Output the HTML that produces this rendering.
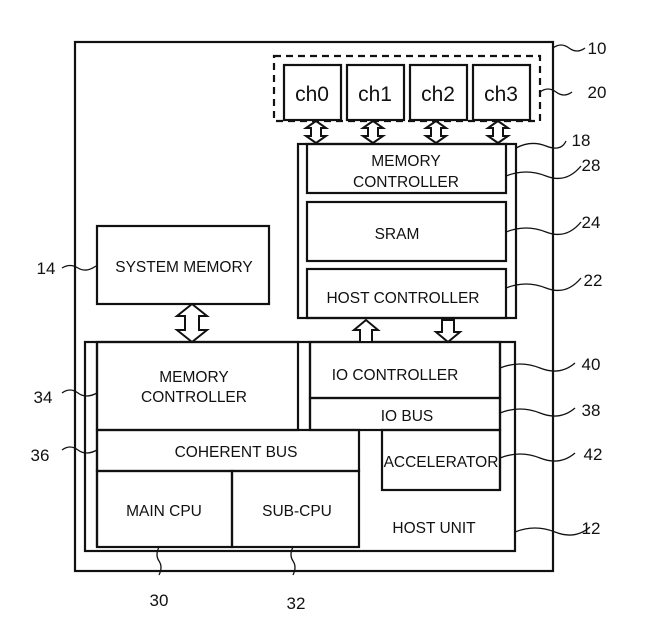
<!DOCTYPE html>
<html><head><meta charset="utf-8"><style>
html,body{margin:0;padding:0;background:#fff;}
svg{display:block;}
text{font-family:"Liberation Sans",sans-serif;fill:#111;}
</style></head><body>
<svg width="650" height="620" viewBox="0 0 650 620" xmlns="http://www.w3.org/2000/svg">
<g fill="none" stroke="#111" stroke-width="2.2">
<rect x="75" y="42" width="478" height="529"/>
<rect x="274" y="56" width="266" height="65" stroke-dasharray="7,5"/>
<rect x="284" y="65" width="57" height="55"/>
<rect x="347" y="65" width="57" height="55"/>
<rect x="410" y="65" width="57" height="55"/>
<rect x="473" y="65" width="57" height="55"/>
<rect x="298" y="144" width="218" height="174"/>
<rect x="307" y="144" width="199" height="49"/>
<rect x="307" y="202" width="199" height="59"/>
<rect x="307" y="269" width="199" height="49"/>
<rect x="97" y="226" width="172" height="78"/>
<rect x="85" y="342" width="430" height="209"/>
<line x1="97" y1="342" x2="97" y2="547"/>
<rect x="97" y="342" width="201" height="88"/>
<line x1="310" y1="342" x2="310" y2="430"/>
<line x1="500" y1="342" x2="500" y2="490"/>
<rect x="310" y="342" width="190" height="56"/>
<rect x="310" y="398" width="190" height="32"/>
<rect x="97" y="430" width="262" height="41"/>
<rect x="97" y="471" width="135" height="76"/>
<rect x="232" y="471" width="127" height="76"/>
<rect x="382" y="430" width="118" height="60"/>
</g>
<g fill="#fff" stroke="#111" stroke-width="2">
<path d="M316 121 l-10 7 h5 v8 h-5 l10 7 l10 -7 h-5 v-8 h5 z"/>
<path d="M373 121 l-10 7 h5 v8 h-5 l10 7 l10 -7 h-5 v-8 h5 z"/>
<path d="M436 121 l-10 7 h5 v8 h-5 l10 7 l10 -7 h-5 v-8 h5 z"/>
<path d="M498 121 l-10 7 h5 v8 h-5 l10 7 l10 -7 h-5 v-8 h5 z"/>
<path d="M192 304 l-15 12 h8 v14 h-8 l15 12 l15 -12 h-8 v-14 h8 z"/>
<path d="M366 320 l-12 10 h6 v12 h12 v-12 h6 z"/>
<path d="M448 342 l-12 -10 h6 v-12 h12 v12 h6 z"/>
</g>
<g fill="none" stroke="#111" stroke-width="1.3">
<path d="M553 48 q8 -6 16 0 t16 0"/>
<path d="M540 92 q8 -6 16 0 t16 0"/>
<path d="M516 148 q15 -8 30 -2 t20 -5"/>
<path d="M506 176 q20 -8 40 0 t35 -10"/>
<path d="M506 232 q20 -8 40 0 t35 -10"/>
<path d="M506 288 q20 -8 40 0 t35 -10"/>
<path d="M500 368 q20 -8 40 0 t35 -5"/>
<path d="M500 413 q20 -8 40 0 t35 -5"/>
<path d="M500 458 q20 -8 40 0 t35 -5"/>
<path d="M515 532 q20 -8 40 0 t35 -5"/>
<path d="M62 268 q8 -5 16 0 t18 -2"/>
<path d="M62 393 q8 -6 16 0 t19 0"/>
<path d="M62 450 q8 -6 16 0 t19 0"/>
<path d="M159 547 q-4 8 0 14 t0 14"/>
<path d="M293 547 q-4 8 0 14 t0 14"/>
</g>
<g font-size="21" text-anchor="middle">
<text x="312" y="101">ch0</text>
<text x="375" y="101">ch1</text>
<text x="438" y="101">ch2</text>
<text x="501" y="101">ch3</text>
</g>
<g font-size="15.5" text-anchor="middle">
<text x="406" y="166">MEMORY</text>
<text x="406" y="187">CONTROLLER</text>
<text x="397" y="239">SRAM</text>
<text x="403" y="303">HOST CONTROLLER</text>
<text x="184" y="272">SYSTEM MEMORY</text>
<text x="194" y="382">MEMORY</text>
<text x="194" y="402">CONTROLLER</text>
<text x="395" y="380">IO CONTROLLER</text>
<text x="407" y="421">IO BUS</text>
<text x="236" y="457">COHERENT BUS</text>
<text x="441" y="467">ACCELERATOR</text>
<text x="164" y="516">MAIN CPU</text>
<text x="297" y="516">SUB-CPU</text>
<text x="434" y="533">HOST UNIT</text>
</g>
<g font-size="17" text-anchor="middle">
<text x="597" y="54">10</text>
<text x="597" y="98">20</text>
<text x="581" y="146">18</text>
<text x="591" y="171">28</text>
<text x="591" y="228">24</text>
<text x="593" y="286">22</text>
<text x="591" y="370">40</text>
<text x="591" y="416">38</text>
<text x="593" y="460">42</text>
<text x="591" y="534">12</text>
<text x="46" y="274">14</text>
<text x="43" y="403">34</text>
<text x="40" y="461">36</text>
<text x="159" y="606">30</text>
<text x="296" y="609">32</text>
</g>
</svg>
</body></html>
